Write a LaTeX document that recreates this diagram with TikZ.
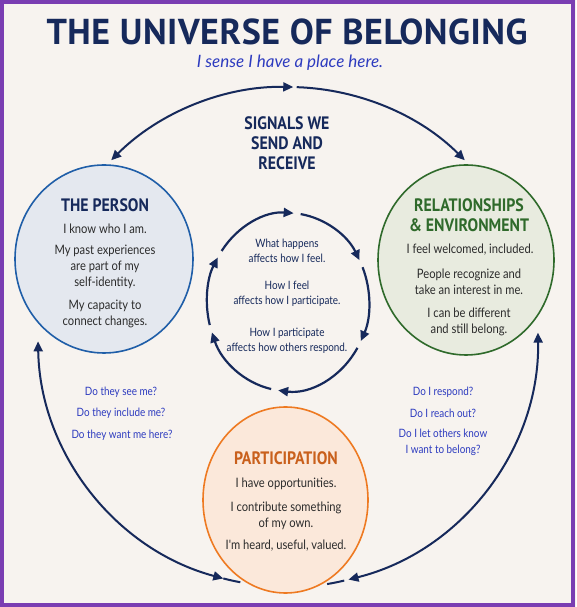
\documentclass[tikz,border=0pt]{standalone}
\usepackage{fontspec}
\usepackage{xcolor}
\setmainfont{Lato}
\newfontfamily\condfont{Lato}[FakeStretch=0.86]
\newfontfamily\headfont{PT Sans}[FakeStretch=0.88]
\newfontfamily\titlefont{PT Sans}[LetterSpace=1.5]
\usetikzlibrary{positioning, shapes.geometric, arrows.meta}

\definecolor{navy}{HTML}{16295B}
\definecolor{askblue}{HTML}{2D3BBF}
\definecolor{bodygray}{HTML}{2B2B2B}
\definecolor{bgcream}{HTML}{F7F3EF}
\definecolor{framepurple}{HTML}{7A3DB2}
\definecolor{personblue}{HTML}{1F5EA8}
\definecolor{personfill}{HTML}{E4E8EF}
\definecolor{relgreen}{HTML}{2F6A2B}
\definecolor{relfill}{HTML}{E8EBDF}
\definecolor{partorange}{HTML}{EE7A22}
\definecolor{parthead}{HTML}{C9601C}
\definecolor{partfill}{HTML}{FBE8DA}

\begin{document}
\begin{tikzpicture}[x=1pt, y=1pt,
    >={Triangle[length=10pt, width=9pt]},
    bubble/.style={ellipse, draw, line width=1.6pt, inner sep=0pt},
    headtxt/.style={font=\headfont\bfseries\fontsize{18}{20}\selectfont, align=center, inner sep=0pt},
    bodytxt/.style={font=\condfont\fontsize{13}{16}\selectfont, text=bodygray, align=center, inner sep=0pt},
    cycletxt/.style={font=\condfont\fontsize{11.5}{15}\selectfont, text=navy, align=center, inner sep=0pt},
    asktxt/.style={font=\condfont\fontsize{11.5}{16}\selectfont, text=askblue, align=center, inner sep=0pt},
    loopline/.style={line width=2pt, draw=navy},
    cycleline/.style={line width=2.2pt, draw=navy}]

  \useasboundingbox (0,0) rectangle (576,607);
  \fill[bgcream] (0,0) rectangle (576,607);
  \draw[framepurple, line width=4pt] (2,2) rectangle (573,605);

  % title
  \node[font=\titlefont\bfseries\fontsize{36}{40}\selectfont, text=navy] (title) at (287,575) {THE UNIVERSE OF BELONGING};
  \node[font=\itshape\fontsize{17}{20}\selectfont, text=askblue] (subtitle) at (290,544) {I sense I have a place here.};
  \node[headtxt, text=navy] (signals) at (287,464) {SIGNALS WE\\SEND AND\\RECEIVE};

  % the three bubbles
  \node[bubble, draw=personblue, fill=personfill, minimum width=178pt, minimum height=188pt] (person) at (104,348) {};
  \node[bubble, draw=relgreen, fill=relfill, minimum width=176pt, minimum height=190pt] (rel) at (466,347) {};
  \node[bubble, draw=partorange, fill=partfill, minimum width=165pt, minimum height=186pt] (part) at (285.5,107) {};

  \node[headtxt, text=navy] (persontitle) at (105,402) {THE PERSON};
  \node[bodytxt] (person1) at (105,378) {I know who I am.};
  \node[bodytxt] (person2) at (105,340) {My past experiences\\are part of my\\self-identity.};
  \node[bodytxt] (person3) at (105,293.5) {My capacity to\\connect changes.};

  \node[headtxt, text=relgreen] (reltitle) at (469,392) {RELATIONSHIPS\\\& ENVIRONMENT};
  \node[bodytxt] (rel1) at (470,357) {I feel welcomed, included.};
  \node[bodytxt] (rel2) at (469,325.5) {People recognize and\\take an interest in me.};
  \node[bodytxt] (rel3) at (469,285) {I can be different\\and still belong.};

  \node[headtxt, text=parthead] (parttitle) at (286,149) {PARTICIPATION};
  \node[bodytxt] (part1) at (286,123) {I have opportunities.};
  \node[bodytxt] (part2) at (286,91) {I contribute something\\of my own.};
  \node[bodytxt] (part3) at (286,61) {I'm heard, useful, valued.};

  % inner cycle
  \coordinate (cyc) at (288,305);
  \node[cycletxt] (cycle1) at (287,356.5) {What happens\\affects how I feel.};
  \node[cycletxt] (cycle2) at (287,313.5) {How I feel\\affects how I participate.};
  \node[cycletxt] (cycle3) at (287,266.5) {How I participate\\affects how others respond.};
  \draw[cycleline, ->] ([shift={(145:81 and 89)}]cyc) arc[start angle=145, end angle=86, x radius=81, y radius=89];
  \draw[cycleline, ->] ([shift={(81:81 and 89)}]cyc) arc[start angle=81, end angle=28, x radius=81, y radius=89];
  \draw[cycleline, ->] ([shift={(23:81 and 89)}]cyc) arc[start angle=23, end angle=-26, x radius=81, y radius=89];
  \draw[cycleline, ->] ([shift={(-31:81 and 89)}]cyc) arc[start angle=-31, end angle=-97, x radius=81, y radius=89];
  \draw[cycleline, ->] ([shift={(-102:81 and 89)}]cyc) arc[start angle=-102, end angle=-160, x radius=81, y radius=89];
  \draw[cycleline, ->] ([shift={(-165:81 and 89)}]cyc) arc[start angle=-165, end angle=-210, x radius=81, y radius=89];

  % outer loop
  \node[circle, minimum size=500pt, inner sep=0pt, outer sep=0pt] (loop) at (288,270) {};
  \draw[loopline, <->] (loop.135) arc[start angle=135, end angle=88.8, radius=250];
  \draw[loopline, ->] (loop.88) arc[start angle=88, end angle=45, radius=250];
  \draw[loopline, <->] (loop.181) arc[start angle=181, end angle=255, radius=250];
  \draw[loopline] (loop.255.5) arc[start angle=255.5, end angle=259.5, radius=250];
  \draw[loopline, <->] (loop.284) arc[start angle=284, end angle=361, radius=250];
  \draw[loopline] (loop.283.5) arc[start angle=283.5, end angle=279.5, radius=250];

  % questions
  \node[asktxt] (ask1) at (121,215) {Do they see me?};
  \node[asktxt] (ask2) at (121,194) {Do they include me?};
  \node[asktxt] (ask3) at (122,172) {Do they want me here?};
  \node[asktxt] (ask4) at (443,215) {Do I respond?};
  \node[asktxt] (ask5) at (443,194) {Do I reach out?};
  \node[asktxt] (ask6) at (443,165) {Do I let others know\\I want to belong?};
\end{tikzpicture}
\end{document}
